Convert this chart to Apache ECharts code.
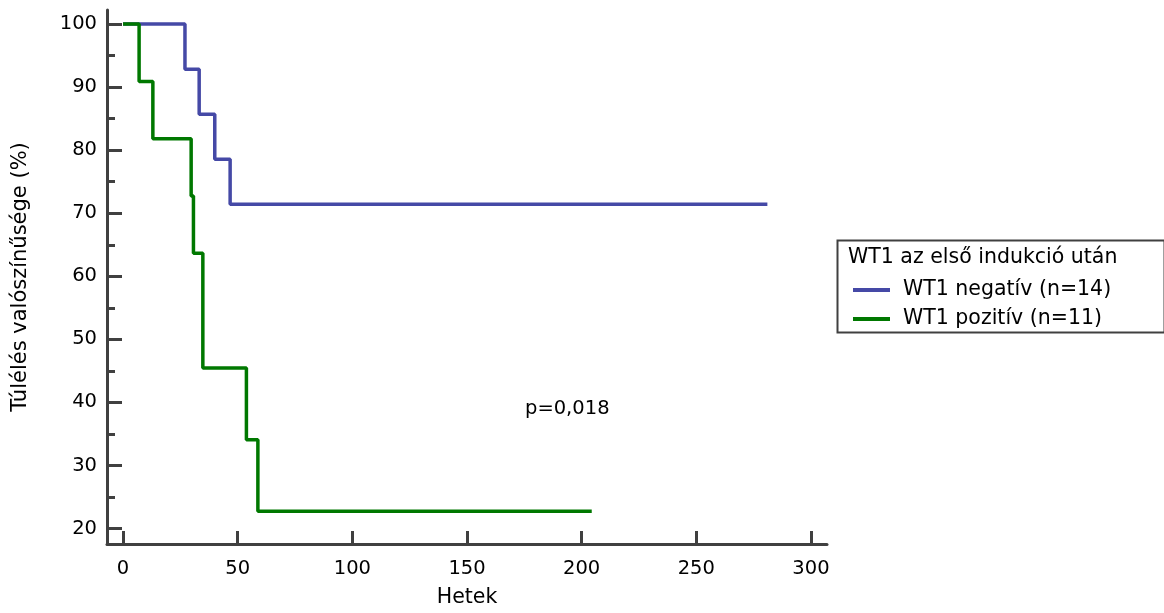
<!DOCTYPE html>
<html>
<head>
<meta charset="utf-8">
<script src="https://cdn.jsdelivr.net/npm/echarts@6/dist/echarts.min.js"></script>
<style>html,body{margin:0;padding:0;background:#fff;}#c{width:1164px;height:613px;}</style>
</head>
<body>
<div id="c"></div>
<script>
// Kaplan-Meier step points: [weeks, survival %]
const negativeWeeks = [0, 27, 33.2, 40, 46.7, 281];
const negativeSurv  = [100, 92.86, 85.71, 78.57, 71.43, 71.43];
const positiveWeeks = [0, 7, 13, 29.7, 30.7, 34.8, 53.8, 58.8, 204.4];
const positiveSurv  = [100, 90.91, 81.82, 72.73, 63.64, 45.45, 34.09, 22.73, 22.73];
const xTicks = [0, 50, 100, 150, 200, 250, 300];
const yTicks = [20, 30, 40, 50, 60, 70, 80, 90, 100];
const yMinorTicks = [25, 35, 45, 55, 65, 75, 85, 95];
const seriesNames = ['WT1 negatív (n=14)', 'WT1 pozitív (n=11)'];
const legendTitle = 'WT1 az első indukció után';
const pText = 'p=0,018';

const FONT = 'DejaVu Sans';
const AX = '#404040';
const TXT = '#000';
const zip = (a, b) => a.map((v, i) => [v, b[i]]);

const chart = echarts.init(document.getElementById('c'), null, {renderer: 'canvas'});
chart.setOption({
  animation: false,
  backgroundColor: '#ffffff',
  grid: {left: 107, right: 337, top: 10, bottom: 63, containLabel: false},
  xAxis: {
    type: 'value', min: -7, max: 307,
    name: 'Hetek', nameLocation: 'middle', nameGap: 43,
    nameTextStyle: {fontFamily: FONT, fontSize: 20.5, color: TXT},
    axisLine: {show: true, onZero: false, lineStyle: {color: AX, width: 3}},
    axisTick: {show: true, inside: true, length: 13, customValues: xTicks, lineStyle: {color: AX, width: 3}},
    axisLabel: {customValues: xTicks, fontFamily: FONT, fontSize: 19.5, color: TXT, margin: 15},
    splitLine: {show: false}
  },
  yAxis: [{
    type: 'value', min: 17.54, max: 102.24,
    name: 'Túlélés valószínűsége (%)', nameLocation: 'middle', nameGap: 76,
    nameTextStyle: {fontFamily: FONT, fontSize: 21, color: TXT},
    axisLine: {show: true, onZero: false, lineStyle: {color: AX, width: 3}},
    axisTick: {show: true, inside: true, length: 15, customValues: yTicks, lineStyle: {color: AX, width: 3}},
    axisLabel: {customValues: yTicks, fontFamily: FONT, fontSize: 19.5, color: TXT, margin: 10},
    splitLine: {show: false}
  }, {
    type: 'value', min: 17.54, max: 102.24, position: 'left', offset: 0,
    axisLine: {show: false, onZero: false},
    axisTick: {show: true, inside: true, length: 8, customValues: yMinorTicks, lineStyle: {color: AX, width: 3}},
    axisLabel: {show: false},
    splitLine: {show: false}
  }],
  legend: {
    orient: 'vertical', left: 848, top: 273,
    itemWidth: 37, itemHeight: 4, itemGap: 5,
    icon: 'rect',
    data: seriesNames,
    textStyle: {fontFamily: FONT, fontSize: 20.5, color: TXT, lineHeight: 24, padding: [0, 0, 0, 8]},
    selectedMode: false
  },
  graphic: [
    {type: 'rect', left: 835, top: 238, shape: {width: 327, height: 92},
     style: {fill: 'none', stroke: AX, lineWidth: 2}, z: 10},
    {type: 'text', left: 848, top: 247,
     style: {text: legendTitle, font: '20.5px "DejaVu Sans"', fill: TXT}, z: 10},
    {type: 'text', left: 525, top: 399,
     style: {text: pText, font: '19.5px "DejaVu Sans"', fill: TXT}, z: 10}
  ],
  series: [{
    name: seriesNames[0], type: 'line', step: 'end', showSymbol: false, symbol: 'none',
    data: zip(negativeWeeks, negativeSurv),
    lineStyle: {color: '#4549a6', width: 3.5}, itemStyle: {color: '#4549a6'}, z: 2
  }, {
    name: seriesNames[1], type: 'line', step: 'end', showSymbol: false, symbol: 'none',
    data: zip(positiveWeeks, positiveSurv),
    lineStyle: {color: '#007800', width: 3.5}, itemStyle: {color: '#007800'}, z: 3
  }]
});
</script>
</body>
</html>
